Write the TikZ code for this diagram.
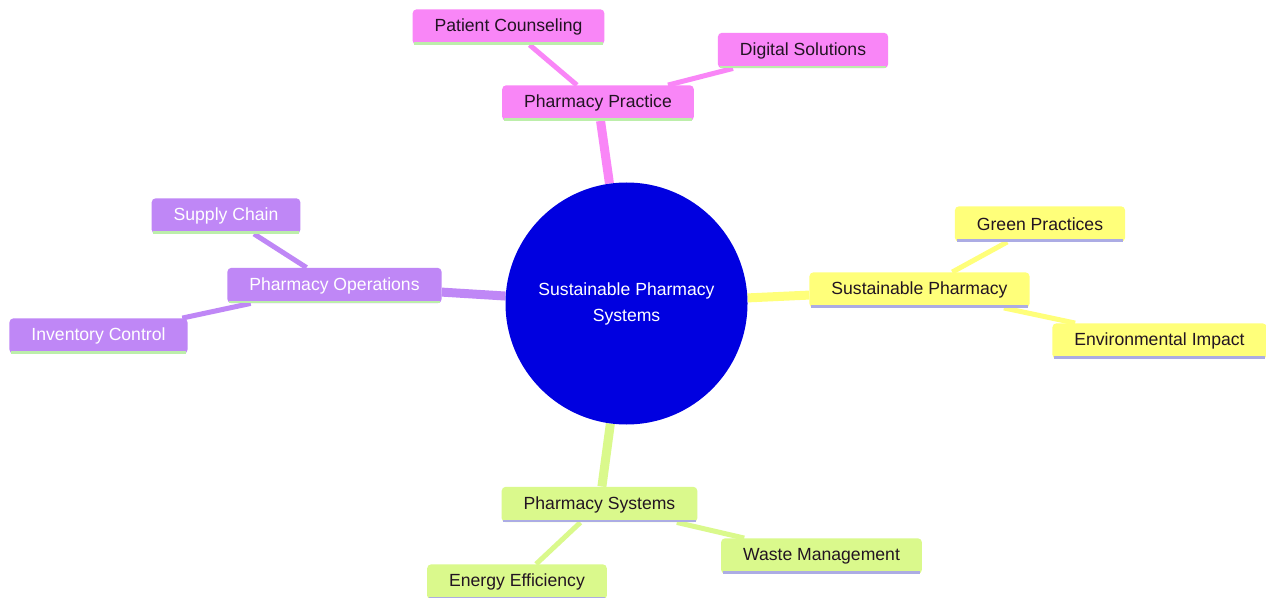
\documentclass[tikz,border=0pt]{standalone}
\usepackage{fontspec}
\setmainfont{Liberation Sans}
\usetikzlibrary{backgrounds}
\definecolor{pinkbox}{RGB}{249,134,247}
\definecolor{purplebox}{RGB}{191,135,246}
\definecolor{yellowbox}{RGB}{255,255,122}
\definecolor{greenbox}{RGB}{218,249,140}
\definecolor{hubblue}{RGB}{0,0,224}
\definecolor{greenline}{RGB}{188,238,170}
\definecolor{lilacline}{RGB}{172,172,228}
\definecolor{darktext}{RGB}{34,20,34}
\begin{document}
\begin{tikzpicture}[x=0.75pt,y=-0.75pt,
	box/.style={rounded corners=3pt,inner xsep=16.5pt,inner ysep=0pt,minimum height=26.5pt,font=\fontsize{13.2}{15}\selectfont},
	practice/.style={box,fill=pinkbox,text=darktext},
	operations/.style={box,fill=purplebox,text=white},
	sustain/.style={box,fill=yellowbox,text=darktext},
	systems/.style={box,fill=greenbox,text=darktext},
	trunk/.style={line width=6.75pt},
	twig/.style={line width=3.75pt}]
	\useasboundingbox (0,0) rectangle (1266,598);
	\node[circle,fill=hubblue,text=white,minimum size=181.5pt,inner sep=0pt,align=center,font=\fontsize{13.2}{19.5}\selectfont] (hub) at (626.5,303.5) {Sustainable Pharmacy\\Systems};
	\node[practice] (pp) at (598,103) {Pharmacy Practice};
	\node[practice] (pc) at (508.5,27) {Patient Counseling};
	\node[practice] (ds) at (803,50.5) {Digital Solutions};
	\node[sustain] (sp) at (919.5,290) {Sustainable Pharmacy};
	\node[sustain] (gp) at (1040,224) {Green Practices};
	\node[sustain] (ei) at (1159.5,341) {Environmental Impact};
	\node[operations] (po) at (334.5,285.5) {Pharmacy Operations};
	\node[operations] (sc) at (226,216) {Supply Chain};
	\node[operations] (ic) at (98.5,336) {Inventory Control};
	\node[systems] (ps) at (599.5,504.5) {Pharmacy Systems};
	\node[systems] (wm) at (821.5,556) {Waste Management};
	\node[systems] (ee) at (517,582) {Energy Efficiency};
	\foreach \n in {pp,pc,ds,po,sc,ic}
		\draw[greenline,line width=2pt] ([shift={(2,-1.5)}]\n.south west) -- ([shift={(-2,-1.5)}]\n.south east);
	\foreach \n in {sp,gp,ei,ps,wm,ee}
		\draw[lilacline,line width=2pt] ([shift={(2,-1.5)}]\n.south west) -- ([shift={(-2,-1.5)}]\n.south east);
	\begin{scope}[on background layer]
		\fill[white] (0,0) rectangle (1266,598);
		\draw[trunk,pinkbox] (hub) -- (pp);
		\draw[twig,pinkbox] (pp) -- (pc);
		\draw[twig,pinkbox] (pp) -- (ds);
		\draw[trunk,yellowbox] (hub) -- (sp);
		\draw[twig,yellowbox] (sp) -- (gp);
		\draw[twig,yellowbox] (sp) -- (ei);
		\draw[trunk,purplebox] (hub) -- (po);
		\draw[twig,purplebox] (po) -- (sc);
		\draw[twig,purplebox] (po) -- (ic);
		\draw[trunk,greenbox] (hub) -- (ps);
		\draw[twig,greenbox] (ps) -- (wm);
		\draw[twig,greenbox] (ps) -- (ee);
	\end{scope}
\end{tikzpicture}
\end{document}
